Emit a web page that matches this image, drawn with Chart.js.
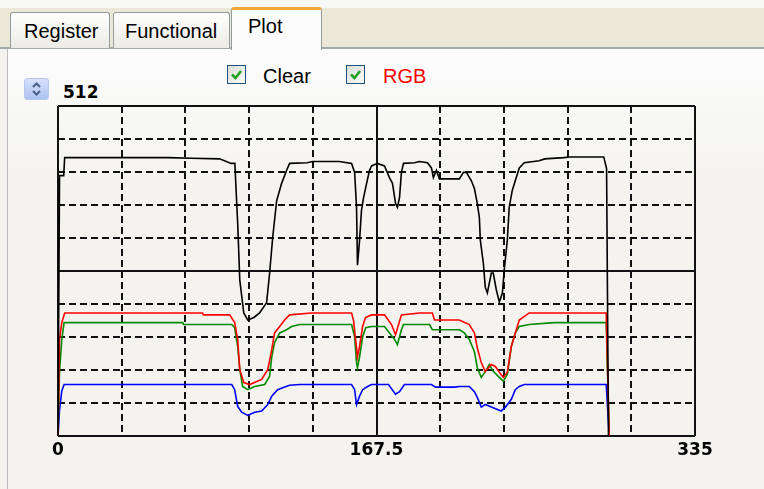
<!DOCTYPE html>
<html>
<head>
<meta charset="utf-8">
<script src="https://cdn.jsdelivr.net/npm/chart.js"></script>
<style>
body{margin:0;width:764px;height:489px;overflow:hidden;background:#f4f3ee;position:relative;font-family:"Liberation Sans",Arial,sans-serif}
.strip{position:absolute;left:0;top:0;width:764px;height:48px;background:#ebe8d8;border-top:8px solid #f8f8f4;box-sizing:border-box}
.stripline{position:absolute;left:0;top:47px;width:764px;height:2px;background:#a2a9aa}
.page{position:absolute;left:7px;top:49px;width:757px;height:440px;border-left:1px solid #b9bdbd;background:linear-gradient(#fcfcfd,#f4f3ee 140px)}
.tab{position:absolute;top:12px;height:36px;border:1px solid #939c9e;border-bottom:none;border-radius:3px 3px 0 0;background:linear-gradient(#fefefe,#ecebe5);box-sizing:border-box}
.tab.sel{top:7px;height:43px;background:#fcfcfd;border-top:3px solid #f3a73a}
.lbl{position:absolute;font-size:20px;line-height:20px;color:#000;white-space:nowrap}
.cb{position:absolute;width:19px;height:19px;border:1px solid #1c5180;box-sizing:border-box;background:linear-gradient(135deg,#dcdcd7,#fbfbf9)}
.spin{position:absolute;left:24px;top:78px;width:25px;height:22px;border-radius:3px;background:linear-gradient(#d6e1fb,#aec2f2);border:1px solid #b8c8ee;box-sizing:border-box}
</style>
</head>
<body>
<div class="strip"></div>
<div class="stripline"></div>
<div class="page"></div>
<div class="tab" style="left:10px;width:100px"></div>
<div class="tab" style="left:113px;width:117px"></div>
<div class="tab sel" style="left:231px;width:91px"></div>
<div class="lbl" style="left:24px;top:21px">Register</div>
<div class="lbl" style="left:125px;top:21px">Functional</div>
<div class="lbl" style="left:248px;top:16px">Plot</div>

<div class="cb" style="left:227px;top:65px"><svg width="17" height="17"><polyline points="4,8.5 7.5,12 13,5" stroke="#21a121" stroke-width="2.6" fill="none"/></svg></div>
<div class="lbl" style="left:263px;top:66px">Clear</div>
<div class="cb" style="left:346px;top:65px"><svg width="17" height="17"><polyline points="4,8.5 7.5,12 13,5" stroke="#21a121" stroke-width="2.6" fill="none"/></svg></div>
<div class="lbl" style="left:383px;top:66px;color:#ff0000">RGB</div>

<div class="spin"><svg width="23" height="20"><polyline points="8,8 11.5,4.5 15,8" stroke="#4a5f86" stroke-width="2" fill="none"/><polyline points="8,12 11.5,15.5 15,12" stroke="#4a5f86" stroke-width="2" fill="none"/></svg></div>
<div class="lbl" style="left:63px;top:82px;font:bold 17px/20px 'DejaVu Sans',Verdana,sans-serif">512</div>

<canvas id="plot" width="764" height="489" style="position:absolute;left:0;top:0"></canvas>

<script>
let xMax = 335;
let yMax = 512;
let xTickLabels = [0, 167.5, 335];

let clearX = [0,0.8,3,3.5,58,70,85,91,93,94.5,95.6,97.7,99.8,103,106,109.7,111.3,112.9,115,117.6,120.2,121.8,131,134,148,154.4,156,157,157.5,158.6,159.6,160.7,162.3,163.8,164.9,168,171.7,174.3,175.9,177.5,178.5,179.6,180.6,181.7,187.5,190.1,194.3,196.4,197.4,199,200.6,211.1,213.2,214.8,217.4,219,220.5,221.6,222.1,223.7,224.7,225.8,226.8,227.9,228.9,230.5,232.1,233.7,234.7,236.3,237.3,238.9,241,242.6,245.2,253,256,266,269,287,288.5,289.5];
let clearY = [0,404,404,432,432,431,430,423,423,330,242,191,180,184,191,207,253,308,365,392,412,423,424,426,426,423,409,355,265,304,350,370,392,412,419,423,419,401,392,361,355,370,409,423,424,426,424,416,401,412,399,399,409,409,396,384,361,339,304,268,231,222,237,253,253,227,208,222,258,304,355,381,401,416,424,427,430,432,433,433,415,0];

let redX = [0,0.8,2,3.5,76,76.5,90.3,92.9,94.5,95.6,97.7,100.8,107.1,110.3,112.4,113.9,116.6,119.2,121.8,133.4,154.4,155.4,156.5,157.5,158.6,160.2,161.7,164.9,171.7,175.4,177.5,179.1,180.6,190.1,196.9,198,211,216.3,219,220.5,222.6,224.7,227.9,230,232.1,234.2,236.3,238.4,240.5,242.6,247.8,288.3,289.9];
let redY = [0,150,176,191,191,188,188,176,150,103,83,80,88,103,134,160,170,180,188,191,191,180,150,123,139,170,184,188,188,173,157,173,188,191,191,180,180,173,160,137,114,100,111,108,99,91,99,139,160,180,191,191,0];

let greenX = [0,0.8,2,3.2,65.6,66,91.4,92.9,94.5,95.6,97.1,99.8,103.4,108.7,111.3,112.4,113.9,116.6,120.2,122.9,127.1,154.4,156,157,157.5,158.6,160.2,161.8,164.9,171.7,177,178.5,180.6,181.7,195.4,196.9,211.1,213.7,216.3,219,220.5,222.6,224.7,226.8,229,232.1,234.2,236.3,238.4,240.5,242.6,247.8,260.9,288.3,289.9];
let greenY = [0,100,150,176,176,173,173,168,139,103,77,72,77,80,93,123,145,160,165,170,173,173,154,114,106,123,154,168,170,170,150,142,165,173,173,165,165,160,150,131,106,91,100,111,100,91,85,96,139,160,170,173,176,176,0];

let blueX = [0,0.8,2,3.2,91.4,92.9,94.5,96.6,99.8,103.4,107.1,110.3,112.4,115.5,119.2,121.8,127.1,154.4,156,157,158.6,160.2,162.8,164.9,173.8,177.5,179.6,182.2,196.4,198.5,208.5,211.1,216.3,219,220.5,222.6,224.7,227.9,233.1,235.3,238.4,240.5,242.6,245.2,288.3,289.9];
let blueY = [0,40,70,80,80,72,46,37,32,37,39,49,62,72,76,79,80,80,72,49,62,72,77,80,80,65,69,80,80,76,76,77,77,69,60,45,49,45,39,45,57,72,77,80,80,0];

function pts(xs, ys){
   return xs.map((x, i) => ({x: x, y: ys[i]}));
}

function line(label, xs, ys, color){
   return {
      label: label,
      data: pts(xs, ys),
      borderColor: color,
      borderWidth: 1.6,
      pointRadius: 0,
      tension: 0,
      fill: false
   };
}

// solid frame + centre lines, dashed for the rest
let gridDash = (c) => (c.index === 0 || c.index === 5 || c.index === 10) ? [] : [7, 4];

const ctx = document.getElementById('plot').getContext('2d');
const plot = new Chart(ctx, {
   type: 'line',
   data: {
      datasets: [
         line('Clear', clearX, clearY, '#000000'),
         line('Red', redX, redY, '#ff0000'),
         line('Green', greenX, greenY, '#008a00'),
         line('Blue', blueX, blueY, '#0000ff')
      ]
   },
   options: {
      responsive: false,
      animation: false,
      events: [],
      layout: {
         padding: {left: 58, right: 69, top: 106, bottom: 24.5}
      },
      scales: {
         x: {
            type: 'linear',
            min: 0,
            max: xMax,
            grid: {color: '#111', lineWidth: 2, drawTicks: false},
            border: {display: false, dash: gridDash},
            ticks: {
               count: 11,
               autoSkip: false,
               maxRotation: 0,
               padding: 4,
               color: '#000',
               font: {family: "'DejaVu Sans', Verdana, sans-serif", size: 17, weight: 'bold'},
               callback: (v) => xTickLabels.includes(v) ? String(v) : ''
            }
         },
         y: {
            min: 0,
            max: yMax,
            grid: {color: '#111', lineWidth: 2, drawTicks: false},
            border: {display: false, dash: gridDash},
            ticks: {count: 11, display: false}
         }
      },
      plugins: {
         legend: {display: false},
         tooltip: {enabled: false}
      }
   }
});
</script>
</body>
</html>
